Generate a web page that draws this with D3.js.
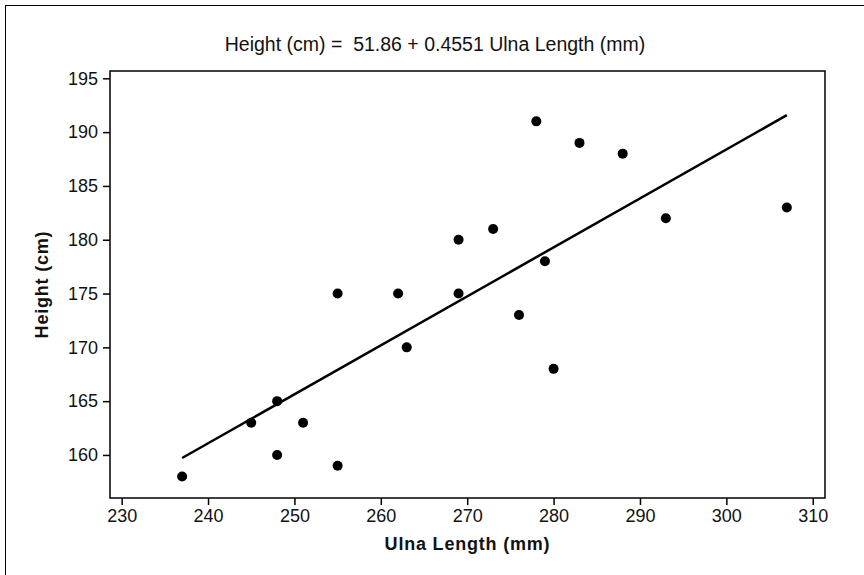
<!DOCTYPE html>
<html>
<head>
<meta charset="utf-8">
<script src="https://cdn.jsdelivr.net/npm/d3@7"></script>
<style>
  html, body { margin: 0; padding: 0; background: #fff; }
  svg { display: block; font-family: "Liberation Sans", Arial, sans-serif; }
</style>
</head>
<body>
<svg id="chart" width="864" height="575"></svg>
<script>
// Ulna length (mm) and height (cm) for each subject
const ulna   = [237, 245, 248, 248, 251, 255, 255, 262, 263, 269, 269, 273, 276, 278, 279, 280, 283, 288, 293, 307];
const height = [158, 163, 165, 160, 163, 175, 159, 175, 170, 180, 175, 181, 173, 191, 178, 168, 189, 188, 182, 183];

// Regression coefficients
const intercept = 51.86;
const slope = 0.4551;

const xTicks = [230, 240, 250, 260, 270, 280, 290, 300, 310];
const yTicks = [160, 165, 170, 175, 180, 185, 190, 195];

const svg = d3.select("#chart");
const plot = { left: 110, top: 71, right: 825, bottom: 498 };

const x = d3.scaleLinear().domain([228.65, 311.42]).range([plot.left, plot.right]);
const y = d3.scaleLinear().domain([156.0, 195.68]).range([plot.bottom, plot.top]);

// Outer frame
svg.append("rect")
  .attr("x", 5.5).attr("y", 5.5)
  .attr("width", 870).attr("height", 580)
  .attr("fill", "none").attr("stroke", "#000").attr("stroke-width", 1);

// Plot frame
svg.append("rect")
  .attr("x", plot.left).attr("y", plot.top)
  .attr("width", plot.right - plot.left).attr("height", plot.bottom - plot.top)
  .attr("fill", "none").attr("stroke", "#000").attr("stroke-width", 1.5);

// Axes
const xAxis = svg.append("g")
  .attr("transform", `translate(0,${plot.bottom})`)
  .call(d3.axisBottom(x).tickValues(xTicks).tickSize(7).tickPadding(4).tickFormat(d3.format("d")));
const yAxis = svg.append("g")
  .attr("transform", `translate(${plot.left},0)`)
  .call(d3.axisLeft(y).tickValues(yTicks).tickSize(7).tickPadding(5).tickFormat(d3.format("d")));

[xAxis, yAxis].forEach(g => {
  g.select(".domain").remove();
  g.selectAll(".tick line").attr("stroke", "#000").attr("stroke-width", 1.5);
  g.selectAll(".tick text")
    .attr("fill", "#111")
    .style("font-family", "'Liberation Sans', Arial, sans-serif")
    .style("font-size", "18px");
});

// Fitted line
const xs = ulna.slice().sort((a, b) => a - b);
const line = d3.line().x(d => x(d)).y(d => y(intercept + slope * d));
svg.append("path")
  .datum([xs[0], xs[xs.length - 1]])
  .attr("d", line)
  .attr("fill", "none")
  .attr("stroke", "#000")
  .attr("stroke-width", 2.5);

// Data points
svg.append("g").selectAll("circle")
  .data(ulna.map((u, i) => [u, height[i]]))
  .join("circle")
  .attr("cx", d => x(d[0]))
  .attr("cy", d => y(d[1]))
  .attr("r", 5)
  .attr("fill", "#000");

// Title with the regression equation
svg.append("text")
  .attr("x", 435).attr("y", 51)
  .attr("text-anchor", "middle")
  .attr("xml:space", "preserve")
  .style("white-space", "pre")
  .style("font-size", "19.5px")
  .attr("fill", "#111")
  .text(`Height (cm) =  ${intercept} + ${slope} Ulna Length (mm)`);

// Axis titles, centred on the plot area
svg.append("text")
  .attr("x", (plot.left + plot.right) / 2).attr("y", 550)
  .attr("text-anchor", "middle")
  .style("font-size", "18px").style("font-weight", "bold")
  .style("letter-spacing", "0.8px")
  .attr("fill", "#111")
  .text("Ulna Length (mm)");

svg.append("text")
  .attr("transform", `translate(48,${(plot.top + plot.bottom) / 2}) rotate(-90)`)
  .attr("text-anchor", "middle")
  .style("font-size", "18px").style("font-weight", "bold")
  .style("letter-spacing", "0.8px")
  .attr("fill", "#111")
  .text("Height (cm)");
</script>
</body>
</html>
